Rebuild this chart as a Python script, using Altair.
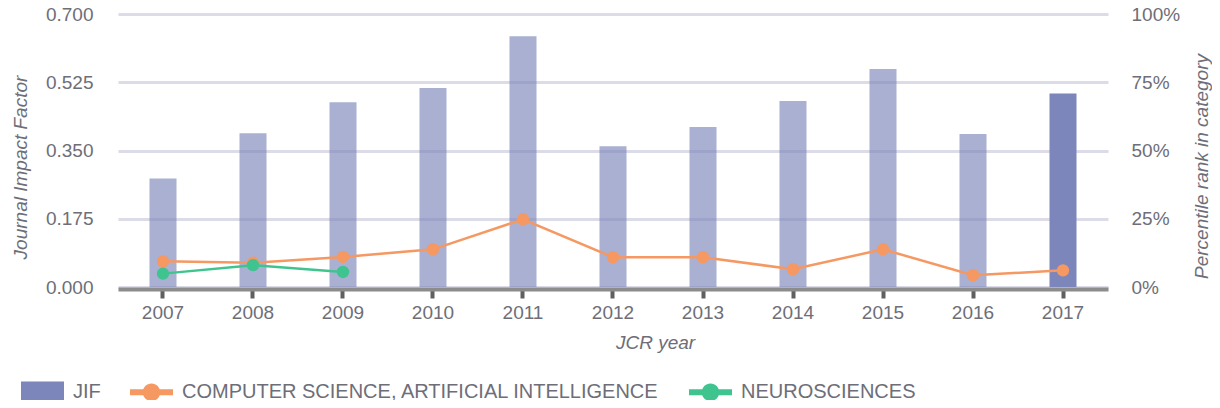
import altair as alt
import pandas as pd

years = [2007, 2008, 2009, 2010, 2011, 2012, 2013, 2014, 2015, 2016, 2017]
jif = [0.278, 0.394, 0.474, 0.510, 0.643, 0.361, 0.410, 0.477, 0.559, 0.392, 0.496]
cs_ai_pct = [9.4, 8.9, 11.0, 13.8, 24.8, 10.9, 10.9, 6.5, 13.8, 4.3, 6.1]
neuro_years = [2007, 2008, 2009]
neuro_pct = [4.9, 8.0, 5.5]

series_names = ["JIF", "COMPUTER SCIENCE, ARTIFICIAL INTELLIGENCE", "NEUROSCIENCES"]
series_colors = ["#7C86BA", "#F59862", "#40C48F"]

left_ticks = [0.0, 0.175, 0.35, 0.525, 0.7]
right_ticks = [0.0, 0.25, 0.5, 0.75, 1.0]

FONT = "Liberation Sans"
TXT = "#6d6e78"
FS = 19

bar_df = pd.DataFrame({"year": years, "value": jif, "series": "JIF"})
line_df = pd.concat([
    pd.DataFrame({"year": years, "pct": [v / 100 for v in cs_ai_pct],
                  "series": series_names[1]}),
    pd.DataFrame({"year": neuro_years, "pct": [v / 100 for v in neuro_pct],
                  "series": series_names[2]}),
], ignore_index=True)
legend_df = pd.DataFrame({"series": series_names})

path_box = "M-1,-0.49L1,-0.49L1,0.49L-1,0.49Z"
path_line = ("M-1,-0.14L1,-0.14L1,0.14L-1,0.14Z "
             "M-0.41,0A0.41,0.41 0 1,1 0.41,0A0.41,0.41 0 1,1 -0.41,0Z")

legend = alt.Legend(
    title=None, orient="none", direction="horizontal",
    legendX=-97, legendY=356, padding=0,
    labelFont=FONT, labelFontSize=20, labelColor=TXT, labelLimit=0,
    symbolSize=1849, symbolStrokeWidth=0, symbolOpacity=1,
    labelOffset=9, columnPadding=29,
)
color_scale = alt.Scale(domain=series_names, range=series_colors)

x_enc = alt.X(
    "year:O",
    scale=alt.Scale(paddingInner=0.7, paddingOuter=0.35),
    axis=alt.Axis(
        title="JCR year", labelAngle=0, labelFont=FONT, labelFontSize=FS,
        labelColor=TXT, labelPadding=5, titleFont=FONT, titleFontSize=FS,
        titleFontStyle="italic", titleFontWeight="normal", titleColor=TXT,
        titleX=537, titleY=53, titleAlign="center", titleBaseline="middle",
        domainColor="#8c8c8c", domainWidth=4, tickColor="#5f5f5f",
        tickWidth=4, tickSize=9, offset=2, grid=False,
    ),
)

bars = alt.Chart(bar_df).mark_bar().encode(
    x=x_enc,
    y=alt.Y(
        "value:Q",
        scale=alt.Scale(domain=[0, 0.7], nice=False, zero=True),
        axis=alt.Axis(
            title="Journal Impact Factor", orient="left", values=left_ticks,
            format=".3f", labelFont=FONT, labelFontSize=FS, labelColor=TXT,
            labelPadding=25, ticks=False, domain=False, grid=True,
            gridColor="#dcdbe8", gridWidth=3,
            titleFont=FONT, titleFontSize=FS, titleFontStyle="italic",
            titleFontWeight="normal", titleColor=TXT, titleAngle=270,
            titleX=-98, titleY=153, titleAlign="center", titleBaseline="middle",
        ),
    ),
    color=alt.Color("series:N", scale=color_scale, legend=legend),
    opacity=alt.condition(alt.datum.year == 2017, alt.value(1.0), alt.value(0.65)),
)

y_right = alt.Y(
    "pct:Q",
    scale=alt.Scale(domain=[0, 1], nice=False),
    axis=alt.Axis(
        title="Percentile rank in category", orient="right", values=right_ticks,
        format=".0%", labelFont=FONT, labelFontSize=FS, labelColor=TXT,
        labelPadding=23, ticks=False, domain=False, grid=False,
        titleFont=FONT, titleFontSize=FS, titleFontStyle="italic",
        titleFontWeight="normal", titleColor=TXT, titleAngle=270,
        titleX=93, titleY=152, titleAlign="center", titleBaseline="middle",
    ),
)

lines = alt.Chart(line_df).mark_line(strokeWidth=2.5).encode(
    x=alt.X("year:O"),
    y=y_right,
    color=alt.Color("series:N", scale=color_scale, legend=None),
    detail="series:N",
)
dots = alt.Chart(line_df).mark_circle(size=154, opacity=1).encode(
    x=alt.X("year:O"),
    y=y_right,
    color=alt.Color("series:N", scale=color_scale, legend=None),
)
legend_layer = alt.Chart(legend_df).mark_point(filled=True, opacity=0).encode(
    color=alt.Color("series:N", scale=color_scale, legend=legend),
    shape=alt.Shape("series:N",
                    scale=alt.Scale(domain=series_names,
                                    range=[path_box, path_line, path_line]),
                    legend=legend),
)

right = alt.layer(lines, dots, legend_layer)

chart = alt.layer(bars, right).resolve_scale(y="independent").properties(
    width=990, height=273,
    autosize=alt.AutoSizeParams(type="none"),
    padding={"left": 110, "top": 6, "right": 104, "bottom": 113},
).configure(font=FONT).configure_view(stroke=None)

chart.save("out.html", embed_options={"renderer": "svg", "actions": False})
